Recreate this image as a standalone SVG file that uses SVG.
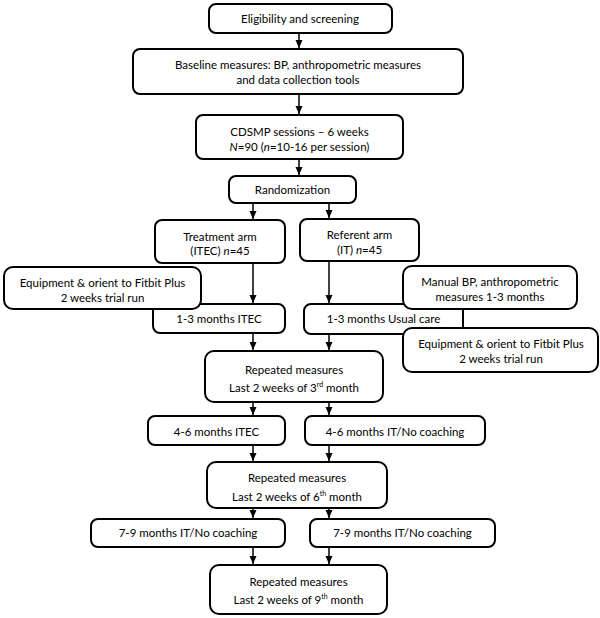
<svg xmlns="http://www.w3.org/2000/svg" width="600" height="618" viewBox="0 0 600 618">
<style>
.b{fill:#fff;stroke:#000;stroke-width:2}
.t{font-family:Lato,"Liberation Sans",sans-serif;font-size:11.5px;fill:#000;text-anchor:middle}
.i{font-style:italic}
.s{font-size:7px}
.c line{stroke:#000;stroke-width:1.5;marker-end:url(#ah)}
</style>
<defs>
<marker id="ah" markerWidth="8" markerHeight="8" refX="8" refY="4" orient="auto" markerUnits="userSpaceOnUse"><path d="M0,0.5 L8,4 L0,7.5 z" fill="#000"/></marker>
</defs>
<rect width="600" height="618" fill="#fff"/>
<g id="n1"><rect class="b" x="209" y="4" width="183" height="29" rx="7"/><text class="t" x="300" y="22.5">Eligibility and screening</text></g>
<g id="n2"><rect class="b" x="133" y="49" width="330" height="45" rx="7"/><text class="t" x="298" y="69">Baseline measures: BP, anthropometric measures</text><text class="t" x="298" y="84">and data collection tools</text></g>
<g id="n3"><rect class="b" x="196" y="115" width="207" height="44" rx="7"/><text class="t" x="299.5" y="136">CDSMP sessions – 6 weeks</text><text class="t" x="299.5" y="151"><tspan class="i">N</tspan>=90 (<tspan class="i">n</tspan>=10-16 per session)</text></g>
<g id="n4"><rect class="b" x="229" y="176" width="127" height="27" rx="7"/><text class="t" x="292.5" y="193.5">Randomization</text></g>
<g id="n5"><rect class="b" x="155" y="220" width="130" height="43" rx="7"/><text class="t" x="220" y="240.5">Treatment arm</text><text class="t" x="220" y="255">(ITEC) <tspan class="i">n</tspan>=45</text></g>
<g id="n6"><rect class="b" x="300" y="219" width="119" height="42" rx="7"/><text class="t" x="359.5" y="239">Referent arm</text><text class="t" x="359.5" y="253.5">(IT) <tspan class="i">n</tspan>=45</text></g>
<g id="n7"><rect class="b" x="153" y="304" width="132" height="29" rx="7"/><text class="t" x="219" y="323">1-3 months ITEC</text></g>
<g id="n8"><rect class="b" x="304" y="304" width="159" height="30" rx="7"/><text class="t" x="383.5" y="323">1-3 months Usual care</text></g>
<g id="n9"><rect class="b" x="4" y="267" width="197" height="42" rx="9"/><text class="t" x="102.5" y="287">Equipment &amp; orient to Fitbit Plus</text><text class="t" x="102.5" y="302">2 weeks trial run</text></g>
<g id="n10"><rect class="b" x="403" y="266" width="174" height="43" rx="9"/><text class="t" x="490" y="286">Manual BP, anthropometric</text><text class="t" x="490" y="301">measures 1-3 months</text></g>
<g id="n11"><rect class="b" x="403" y="328" width="195" height="44" rx="9"/><text class="t" x="501" y="348">Equipment &amp; orient to Fitbit Plus</text><text class="t" x="501" y="362.5">2 weeks trial run</text></g>
<g id="n12"><rect class="b" x="205" y="351" width="178" height="51" rx="9"/><text class="t" x="294" y="374">Repeated measures</text><text class="t" x="294" y="392">Last 2 weeks of 3<tspan class="s" dy="-5">rd</tspan><tspan dy="5"> month</tspan></text></g>
<g id="n13"><rect class="b" x="148" y="416" width="137" height="29" rx="7"/><text class="t" x="216.5" y="436">4-6 months ITEC</text></g>
<g id="n14"><rect class="b" x="305" y="416" width="180" height="29" rx="7"/><text class="t" x="395" y="436">4-6 months IT/No coaching</text></g>
<g id="n15"><rect class="b" x="207" y="462" width="180" height="46" rx="9"/><text class="t" x="297" y="482">Repeated measures</text><text class="t" x="297" y="501">Last 2 weeks of 6<tspan class="s" dy="-5">th</tspan><tspan dy="5"> month</tspan></text></g>
<g id="n16"><rect class="b" x="91" y="519" width="194" height="28" rx="7"/><text class="t" x="188" y="537">7-9 months IT/No coaching</text></g>
<g id="n17"><rect class="b" x="310" y="519" width="185" height="28" rx="7"/><text class="t" x="402.5" y="537">7-9 months IT/No coaching</text></g>
<g id="n18"><rect class="b" x="210" y="565" width="177" height="49" rx="9"/><text class="t" x="298.5" y="586">Repeated measures</text><text class="t" x="298.5" y="604">Last 2 weeks of 9<tspan class="s" dy="-5">th</tspan><tspan dy="5"> month</tspan></text></g>
<g id="connectors" class="c">
<line x1="299" y1="33" x2="299" y2="48"/>
<line x1="299" y1="94" x2="299" y2="114"/>
<line x1="299" y1="159" x2="299" y2="175"/>
<line x1="253" y1="203" x2="253" y2="219"/>
<line x1="329" y1="203" x2="329" y2="218"/>
<line x1="253" y1="263" x2="253" y2="303"/>
<line x1="329" y1="261" x2="329" y2="303"/>
<line x1="253" y1="333" x2="253" y2="350"/>
<line x1="329" y1="334" x2="329" y2="350"/>
<line x1="253" y1="402" x2="253" y2="415"/>
<line x1="329" y1="402" x2="329" y2="415"/>
<line x1="253" y1="445" x2="253" y2="461"/>
<line x1="329" y1="445" x2="329" y2="461"/>
<line x1="253" y1="508" x2="253" y2="518"/>
<line x1="329" y1="508" x2="329" y2="518"/>
<line x1="253" y1="547" x2="253" y2="564"/>
<line x1="329" y1="547" x2="329" y2="564"/>
</g>
</svg>
